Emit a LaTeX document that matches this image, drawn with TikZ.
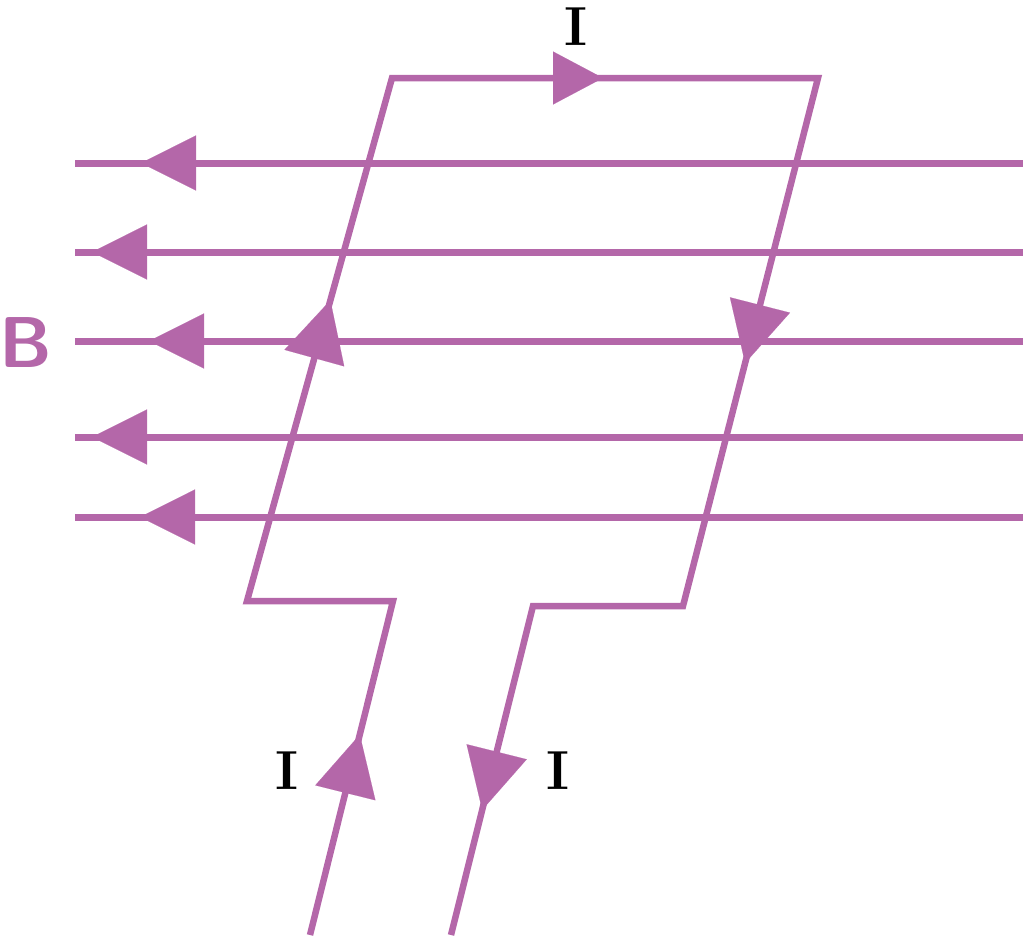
\documentclass[tikz,border=0pt]{standalone}
\usetikzlibrary{arrows.meta,calc}
\definecolor{mag}{HTML}{B467A9}
\begin{document}
\begin{tikzpicture}[x=1pt,y=-1pt,
  fieldline/.style={draw=mag,line width=7pt},
  wire/.style={draw=mag,line width=6.5pt,line join=miter},
  arr/.style={draw=mag,fill=mag,line width=0.1pt,-{Triangle[length=55pt,width=55pt]}},
  bigarr/.style={draw=mag,fill=mag,line width=0.1pt,-{Triangle[length=60pt,width=62pt]}},
  toparr/.style={draw=mag,fill=mag,line width=0.1pt,-{Triangle[length=50pt,width=53pt]}},
  ilabel/.style={font=\fontsize{55}{55}\selectfont\bfseries,text=black,inner sep=0pt},
  blabel/.style={font=\fontsize{72}{72}\selectfont\sffamily\bfseries,text=mag,inner sep=0pt}]
\useasboundingbox (0,0) rectangle (1023,938);
% field lines
\foreach \y/\t [count=\i] in {163/141,252/92,341/149,437/92,517/140}{
  \coordinate (L\i) at (75,\y);
  \coordinate (R\i) at (1023,\y);
  \coordinate (T\i) at (\t,\y);
  \draw[fieldline] (L\i) -- (R\i);
  \draw[arr] ($(T\i)+(20,0)$) -- (T\i);
}
% current loop
\coordinate (inA) at (310,935);
\coordinate (c1) at (393,601);
\coordinate (c2) at (247,601);
\coordinate (c3) at (392,78);
\coordinate (c4) at (818,78);
\coordinate (c5) at (683,606);
\coordinate (c6) at (533,606);
\coordinate (outA) at (451,935);
\draw[wire] (inA) -- (c1) -- (c2) -- (c3) -- (c4) -- (c5) -- (c6) -- (outA);
% current arrows
\draw[toparr] (570,78) -- (603,78);
\draw[bigarr] ($(c2)!0.55!(c3)$) -- ($(c2)!0.575!(c3)$);
\draw[bigarr] ($(c4)!0.495!(c5)$) -- ($(c4)!0.54!(c5)$);
\draw[bigarr] ($(inA)!0.55!(c1)$) -- ($(inA)!0.60!(c1)$);
\draw[bigarr] ($(c6)!0.55!(outA)$) -- ($(c6)!0.62!(outA)$);
% labels
\node[ilabel] (Itop) at (576,27) {I};
\node[ilabel] (Ileft) at (287,771) {I};
\node[ilabel] (Iright) at (558,771) {I};
\node[blabel] (B) at (26,343) {B};
\end{tikzpicture}
\end{document}
